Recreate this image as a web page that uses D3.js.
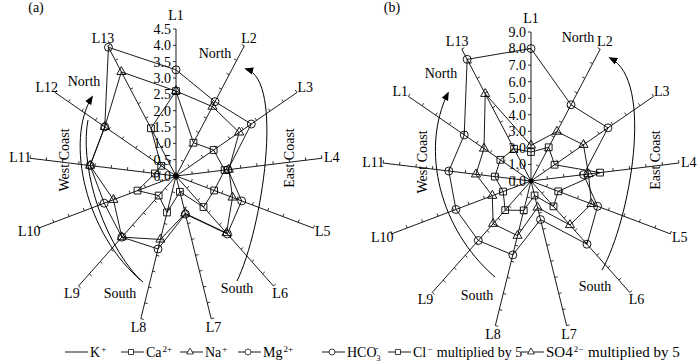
<!DOCTYPE html>
<html>
<head>
<meta charset="utf-8">
<script src="https://cdn.jsdelivr.net/npm/d3@7"></script>
<style>
body { margin: 0; background: #fff; }
svg text { font-family: "Liberation Serif", "Times New Roman", serif; font-size: 13px; fill: #000; }
</style>
</head>
<body>
<svg id="chart" width="700" height="362"></svg>
<script>
// sites round the radar, clockwise from the top
var sitesA = ["L1","L2","L3","L4","L5","L6","L7","L8","L9","L10","L11","L12","L13"];
var sitesB = ["L1","L2","L3","L4","L5","L6","L7","L8","L9","L10","L11","L1","L13"];

// (a) cations
var kA  = [0.1, 0.08, 0.08, 0.1, 0.08, 0.08, 0.1, 0.1, 0.08, 0.08, 0.1, 0.08, 0.1];
var caA = [2.6, 1.15, 1.4, 1.5, 1.25, 1.27, 0.5, 1.15, 0.8, 1.26, 0.65, 0.55, 1.65];
var naA = [2.6, 2.4, 2.35, 1.63, 1.85, 2.33, 1.18, 2.0, 2.5, 2.05, 2.65, 2.65, 3.6];
var mgA = [3.25, 2.57, 2.8, 1.6, 2.15, 2.37, 1.2, 2.3, 2.5, 2.35, 2.65, 2.65, 4.45];

// (b) anions
var hco3B = [8.0, 5.2, 5.65, 3.2, 4.3, 5.1, 2.4, 4.6, 4.8, 4.85, 5.0, 4.9, 8.3];
var clB   = [1.75, 2.3, 1.73, 4.2, 1.76, 2.05, 0.9, 1.83, 2.35, 1.8, 2.2, 2.25, 2.2];
var so4B  = [2.15, 3.37, 3.85, 3.5, 3.9, 3.55, 1.65, 3.4, 3.45, 2.5, 3.35, 3.45, 5.95];

var ticksA = [0, 0.5, 1, 1.5, 2, 2.5, 3, 3.5, 4, 4.5];
var ticksB = [0, 1, 2, 3, 4, 5, 6, 7, 8, 9];

var svg = d3.select("#chart");
var n = sitesA.length;
function ang(i) { return i * 2 * Math.PI / n; }

function symbolPath(kind) {
  if (kind == "circle") return d3.symbol(d3.symbolCircle, 50)();
  if (kind == "square") return d3.symbol(d3.symbolSquare, 46)();
  if (kind == "triangle") return d3.symbol(d3.symbolTriangle, 36)();
  return null;
}

function radar(o) {
  var g = svg.append("g").attr("transform", "translate(" + o.cx + "," + o.cy + ")");
  var r = d3.scaleLinear().domain([0, o.ticks[o.ticks.length - 1]]).range([0, o.len]);
  var idx = d3.range(n);

  // spokes
  g.selectAll("line.spoke").data(idx).join("line")
    .attr("x1", 0).attr("y1", 0)
    .attr("x2", function(i) { return r.range()[1] * Math.sin(ang(i)); })
    .attr("y2", function(i) { return -r.range()[1] * Math.cos(ang(i)); })
    .attr("stroke", "#000").attr("stroke-width", 0.9);

  // small tick marks on every spoke (left-hand spokes get them on the upper side)
  var tk = [];
  idx.forEach(function(i) {
    o.ticks.slice(1).forEach(function(t) { tk.push({i: i, v: t, s: i >= 9 ? -1 : 1}); });
  });
  g.selectAll("line.tick").data(tk).join("line")
    .attr("x1", function(d) { return r(d.v) * Math.sin(ang(d.i)); })
    .attr("y1", function(d) { return -r(d.v) * Math.cos(ang(d.i)); })
    .attr("x2", function(d) { return r(d.v) * Math.sin(ang(d.i)) - d.s * 3 * Math.cos(ang(d.i)); })
    .attr("y2", function(d) { return -r(d.v) * Math.cos(ang(d.i)) - d.s * 3 * Math.sin(ang(d.i)); })
    .attr("stroke", "#000").attr("stroke-width", 0.8);

  // value labels along L1
  g.selectAll("text.val").data(o.ticks).join("text")
    .attr("x", -5).attr("y", function(t) { return -r(t); })
    .attr("text-anchor", "end").attr("dy", "0.35em")
    .style("font-size", "14px")
    .text(d3.format(".1f"));

  // site labels
  g.selectAll("text.site").data(o.sites).join("text")
    .attr("x", function(d, i) { return (o.len + 10) * Math.sin(ang(i)); })
    .attr("y", function(d, i) { return -(o.len + (i == 0 ? 14 : 9)) * Math.cos(ang(i)); })
    .attr("text-anchor", "middle").attr("dy", "0.35em")
    .style("font-size", "14px")
    .text(function(d) { return d; });

  var line = d3.lineRadial()
    .angle(function(d, i) { return ang(i); })
    .radius(function(d) { return r(d); })
    .curve(d3.curveLinearClosed);

  o.series.forEach(function(s) {
    g.append("path").attr("d", line(s.values))
      .attr("fill", "none").attr("stroke", "#000").attr("stroke-width", 0.9);
    if (s.marker) {
      g.selectAll(null).data(s.values).join("path")
        .attr("d", symbolPath(s.marker))
        .attr("transform", function(d, i) {
          return "translate(" + r(d) * Math.sin(ang(i)) + "," + (-r(d) * Math.cos(ang(i))) + ")";
        })
        .attr("fill", "none").attr("stroke", "#000").attr("stroke-width", 0.9);
    }
  });
  g.append("circle").attr("r", 2.5).attr("fill", "#000");
}

radar({cx: 176, cy: 176, len: 147, ticks: ticksA, sites: sitesA, series: [
  {values: kA, marker: null},
  {values: caA, marker: "square"},
  {values: naA, marker: "triangle"},
  {values: mgA, marker: "circle"}
]});
radar({cx: 531, cy: 181, len: 149, ticks: ticksB, sites: sitesB, series: [
  {values: hco3B, marker: "circle"},
  {values: clB, marker: "square"},
  {values: so4B, marker: "triangle"}
]});

// arrowhead
svg.append("defs").append("marker")
  .attr("id", "arrow").attr("viewBox", "0 0 10 10")
  .attr("refX", 8).attr("refY", 5)
  .attr("markerWidth", 9).attr("markerHeight", 9)
  .attr("markerUnits", "userSpaceOnUse")
  .attr("orient", "auto")
  .append("path").attr("d", "M0,1 L10,5 L0,9 Z").attr("fill", "#000");

var arcs = [
  {d: "M237,281 C262,230 285,80 246,69", head: true},
  {d: "M143,282 C85,235 65,140 92,97", head: true},
  {d: "M140,280 C98,235 80,160 88,120", head: false},
  {d: "M602,270 C630,220 655,80 610,58", head: true},
  {d: "M495,277 C440,230 420,150 448,93", head: true}
];
svg.selectAll("path.arc").data(arcs).join("path")
  .attr("d", function(d) { return d.d; })
  .attr("fill", "none").attr("stroke", "#000").attr("stroke-width", 1)
  .attr("marker-end", function(d) { return d.head ? "url(#arrow)" : null; });

var notes = [
  {t: "(a)", x: 36, y: 12},
  {t: "(b)", x: 392, y: 12},
  {t: "North", x: 215, y: 58},
  {t: "North", x: 84, y: 86},
  {t: "South", x: 237, y: 293},
  {t: "South", x: 120, y: 298},
  {t: "North", x: 578, y: 42},
  {t: "North", x: 441, y: 78},
  {t: "South", x: 595, y: 291},
  {t: "South", x: 477, y: 300}
];
svg.selectAll("text.note").data(notes).join("text")
  .attr("x", function(d) { return d.x; }).attr("y", function(d) { return d.y; })
  .attr("text-anchor", "middle").style("font-size", "14px")
  .text(function(d) { return d.t; });

var coasts = [
  {t: "East Coast", x: 294, y: 158},
  {t: "West Coast", x: 69, y: 160},
  {t: "East Coast", x: 660, y: 160},
  {t: "West Coast", x: 427, y: 162}
];
svg.selectAll("text.coast").data(coasts).join("text")
  .attr("transform", function(d) { return "translate(" + d.x + "," + d.y + ") rotate(-90)"; })
  .attr("text-anchor", "middle").style("font-size", "14px")
  .text(function(d) { return d.t; });

// legend
var legend = [
  {x: 65, marker: null, main: "K", sup: "+"},
  {x: 121, marker: "square", main: "Ca", sup: "2+"},
  {x: 180, marker: "triangle", main: "Na", sup: "+"},
  {x: 238, marker: "circle", main: "Mg", sup: "2+"},
  {x: 322, marker: "circle", main: "HCO", sub: "3", sup: "-"},
  {x: 388, marker: "square", main: "Cl", sup: "\u2212", rest: " multiplied by 5"},
  {x: 521, marker: "triangle", main: "SO4", sup: "2\u2212", rest: " multiplied by 5", size: 15}
];
var ly = 352;
var lg = svg.selectAll("g.leg").data(legend).join("g")
  .attr("transform", function(d) { return "translate(" + d.x + "," + ly + ")"; });
lg.append("line").attr("x1", 0).attr("x2", 23).attr("y1", 0).attr("y2", 0)
  .attr("stroke", "#000").attr("stroke-width", 0.9);
lg.filter(function(d) { return d.marker; }).append("path")
  .attr("transform", "translate(10,0) scale(0.75)")
  .attr("d", function(d) { return symbolPath(d.marker); })
  .attr("fill", "#fff").attr("stroke", "#000").attr("stroke-width", 1);
var lt = lg.append("text").attr("x", 25).attr("y", 5)
  .style("font-size", function(d) { return (d.size || 14) + "px"; });
lt.append("tspan").text(function(d) { return d.main; });
lt.filter(function(d) { return d.sub; }).append("tspan")
  .attr("dy", 4).style("font-size", "8px").text(function(d) { return d.sub; });
lt.filter(function(d) { return d.sub; }).append("tspan")
  .attr("dx", -5).attr("dy", -10).style("font-size", "8px").text(function(d) { return d.sup; });
lt.filter(function(d) { return !d.sub; }).append("tspan")
  .attr("dx", 1).attr("dy", -5).style("font-size", "9px").text(function(d) { return d.sup; });
lt.filter(function(d) { return d.rest; }).append("tspan")
  .attr("dx", 1).attr("dy", 5).text(function(d) { return d.rest; });
</script>
</body>
</html>
